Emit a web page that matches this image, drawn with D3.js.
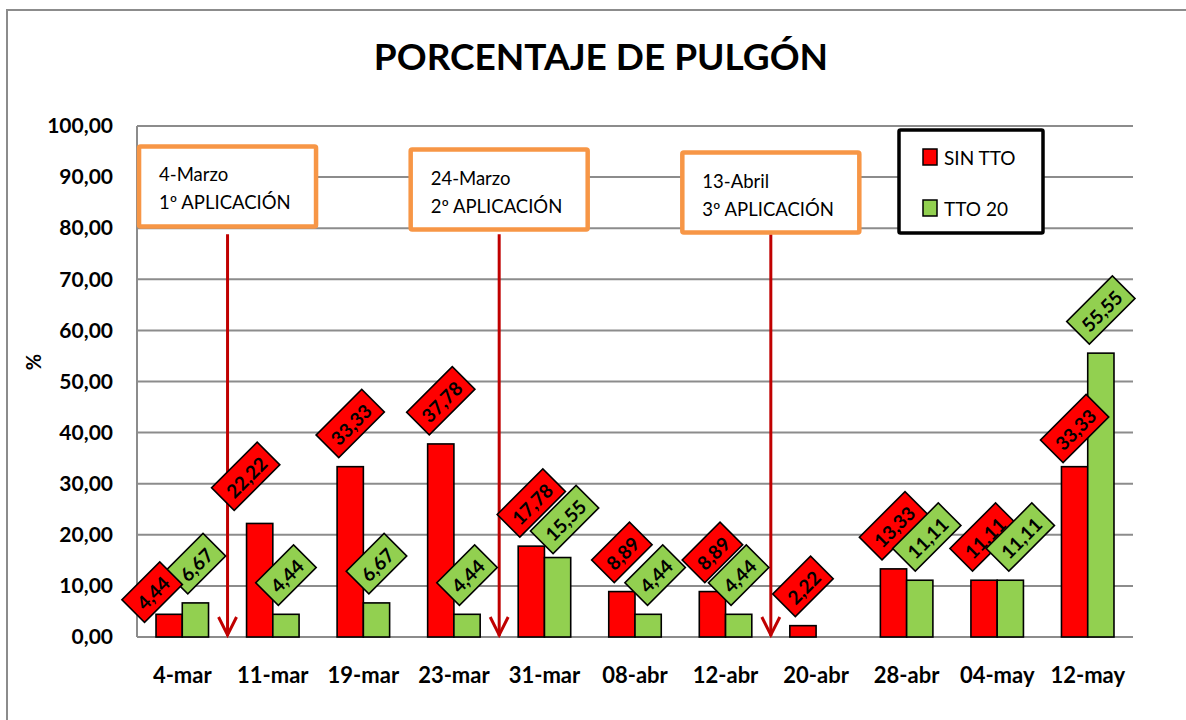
<!DOCTYPE html>
<html><head><meta charset="utf-8">
<script src="https://cdn.jsdelivr.net/npm/d3@7"></script>
<style>body{margin:0;background:#fff}svg{display:block}</style>
</head><body>
<svg id="c" width="1186" height="720"></svg>
<script>
const categories = ["4-mar","11-mar","19-mar","23-mar","31-mar","08-abr","12-abr","20-abr","28-abr","04-may","12-may"];
const sinTTO = [4.44,22.22,33.33,37.78,17.78,8.89,8.89,2.22,13.33,11.11,33.33];
const tto20  = [6.67,4.44,6.67,4.44,15.55,4.44,4.44,null,11.11,11.11,55.55];
const seriesNames = ["SIN TTO","TTO 20"];
const yTicks = [0,10,20,30,40,50,60,70,80,90,100];
const annotAt = [1,4,7];
const annotLine1 = ["4-Marzo","24-Marzo","13-Abril"];
const annotLine2 = ["1º APLICACIÓN","2º APLICACIÓN","3º APLICACIÓN"];

const FONT = "Lato, 'Open Sans', sans-serif";
const colors = ["#FF0000","#92D050"];
const svg = d3.select("#c");
const L = 137, R = 1133, T = 126, B = 637;

// manual label nudges (as placed in the original chart), keyed "series-index"
const nudge = {"0-0":[-17,17],"0-1":[-14,-4],"1-4":[7,5],"1-5":[7,0],"1-8":[7,0],"1-9":[10,0],"0-10":[0,5]};

// outer frame
svg.append("path").attr("d","M7,720V10H1186").attr("fill","none").attr("stroke","#8c8c8c").attr("stroke-width",2);

const x = d3.scaleBand().domain(categories).range([L,R]).padding(0);
const y = d3.scaleLinear().domain([0,100]).range([B,T]);
const bw = x.bandwidth()*0.29;

// grid
svg.append("g").selectAll("line").data(yTicks).join("line")
  .attr("x1",L).attr("x2",R).attr("y1",d=>y(d)).attr("y2",d=>y(d))
  .attr("stroke","#8c8c8c").attr("stroke-width",2);
svg.append("line").attr("x1",L).attr("x2",L).attr("y1",T).attr("y2",B).attr("stroke","#8c8c8c").attr("stroke-width",2);

// y axis
const yAxis = d3.axisLeft(y).tickValues(yTicks).tickSize(0).tickPadding(24)
  .tickFormat(d=>d3.format(".2f")(d).replace(".",","));
const gy = svg.append("g").attr("transform",`translate(${L},0)`).call(yAxis);
gy.select(".domain").remove();
gy.selectAll("text").attr("font-family",FONT).attr("font-weight","bold").attr("font-size",21).attr("fill","#000");

// x axis
const xAxis = d3.axisBottom(x).tickSize(0).tickPadding(30);
const gx = svg.append("g").attr("transform",`translate(0,${B})`).call(xAxis);
gx.select(".domain").remove();
gx.selectAll("text").attr("font-family",FONT).attr("font-weight","bold").attr("font-size",22).attr("fill","#000");

// y title
svg.append("text").attr("transform","translate(41,362) rotate(-90)").attr("text-anchor","middle")
  .attr("font-family",FONT).attr("font-weight","bold").attr("font-size",20).text("%");

// title
svg.append("text").attr("x",601).attr("y",70).attr("text-anchor","middle")
  .attr("font-family",FONT).attr("font-weight","bold").attr("font-size",37).text("PORCENTAJE DE PULGÓN");

// bars
const series = [sinTTO, tto20];
series.forEach((vals,si)=>{
  const pts = categories.map((c,i)=>({c,v:vals[i]})).filter(d=>d.v!=null);
  const bx = d=> x(d.c)+x.bandwidth()/2 + (si===0 ? -bw : 0);
  svg.append("g").selectAll("rect").data(pts).join("rect")
    .attr("x",bx).attr("width",bw).attr("y",d=>y(d.v)).attr("height",d=>y(0)-y(d.v))
    .attr("fill",colors[si]).attr("stroke","#000").attr("stroke-width",1.6);
});

// arrows
const arrowCol = "#C00000";
annotAt.forEach((idx,k)=>{
  const ax = x(categories[idx]);
  const g = svg.append("g").attr("stroke",arrowCol).attr("stroke-width",3).attr("fill","none");
  g.append("line").attr("x1",ax).attr("x2",ax).attr("y1",y(78.8)).attr("y2",y(0)-1);
  g.append("path").attr("d",`M${ax-9},${y(0)-20}L${ax},${y(0)-2}L${ax+9},${y(0)-20}`);
});

// annotation boxes
const tops = [96.0,95.4,94.8];
annotAt.forEach((idx,k)=>{
  const ax = x(categories[idx]);
  const bwid = 177, bh = 80;
  const g = svg.append("g");
  g.append("rect").attr("x",ax-bwid/2).attr("y",y(tops[k])).attr("width",bwid).attr("height",bh)
    .attr("fill","#fff").attr("stroke","#F79646").attr("stroke-width",4.5).attr("rx",1.5);
  const t = g.append("text").attr("font-family",FONT).attr("font-size",18.5).attr("fill","#000");
  t.append("tspan").attr("x",ax-bwid/2+20).attr("y",y(tops[k])+35).text(annotLine1[k]);
  t.append("tspan").attr("x",ax-bwid/2+20).attr("y",y(tops[k])+63).text(annotLine2[k]);
});

// data labels (rotated boxes)
const fmt = v=> d3.format(".2f")(v).replace(".",",");
const labelOrder = [];
series.forEach((vals,si)=> categories.forEach((c,i)=>{ if(vals[i]!=null) labelOrder.push([si,i]); }));
labelOrder.sort((a,b)=> ((a[0]===0&&a[1]===0)?1:0) - ((b[0]===0&&b[1]===0)?1:0));
labelOrder.forEach(([si,i])=>{
  const v = series[si][i], c = categories[i];
  const nd = nudge[si+"-"+i] || [0,0];
  const cx = x(c)+x.bandwidth()/2 + (si===0 ? -bw/2 : bw/2) + nd[0];
  const g = svg.append("g");
  const t = g.append("text").attr("font-family",FONT).attr("font-weight","bold").attr("font-size",19)
    .attr("text-anchor","middle").attr("dominant-baseline","central").text(fmt(v));
  const tw = t.node().getComputedTextLength();
  const w = tw+16, h = 32;
  const half = (w+h)/Math.SQRT2/2;
  const cy = y(v) - 9 - half + nd[1];
  g.insert("rect","text").attr("x",-w/2).attr("y",-h/2).attr("width",w).attr("height",h)
    .attr("fill",colors[si]).attr("stroke","#000").attr("stroke-width",1.6);
  t.attr("y",1);
  g.attr("transform",`translate(${cx},${cy}) rotate(-45)`);
});

// legend
const lg = svg.append("g");
lg.append("rect").attr("x",899).attr("y",130).attr("width",144).attr("height",103)
  .attr("fill","#fff").attr("stroke","#000").attr("stroke-width",3.5).attr("rx",1.5);
seriesNames.forEach((n,i)=>{
  const yy = 149 + i*51;
  lg.append("rect").attr("x",923).attr("y",yy).attr("width",14).attr("height",16)
    .attr("fill",colors[i]).attr("stroke","#000").attr("stroke-width",1.5);
  lg.append("text").attr("x",944).attr("y",yy+16).attr("font-family",FONT).attr("font-size",19).text(n);
});
</script>
</body></html>
